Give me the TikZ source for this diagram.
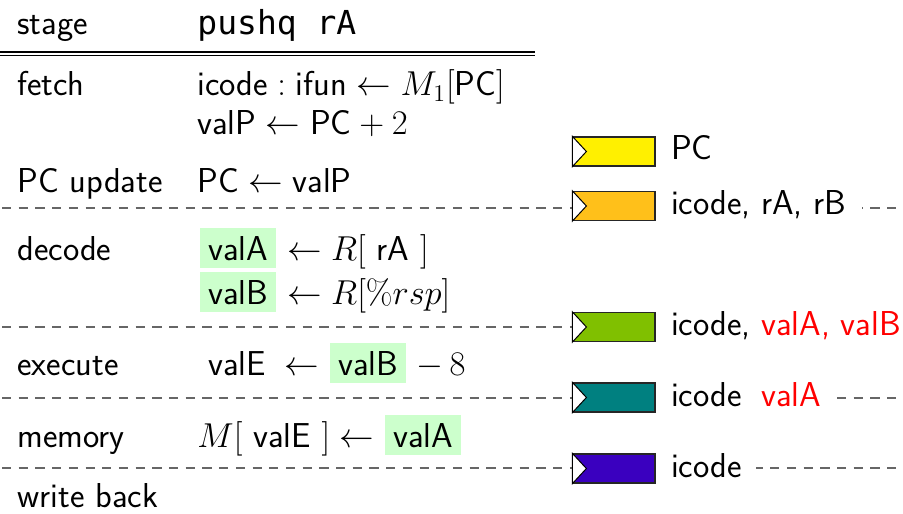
\documentclass[tikz,border=0pt]{standalone}
\usepackage{amsmath}
\usepackage{fontspec}
\newfontfamily\codefont[Scale=0.955]{DejaVu Sans Mono}
\usetikzlibrary{calc}

\definecolor{hlgreen}{HTML}{CCFFCC}
\definecolor{regyellow}{HTML}{FFF000}
\definecolor{regorange}{HTML}{FFC01A}
\definecolor{reggreen}{HTML}{80C000}
\definecolor{regteal}{HTML}{008080}
\definecolor{regpurple}{HTML}{3A00BF}

% highlighted operand, and an unfilled box of the same size for alignment
\newcommand{\hlval}[1]{{\setlength{\fboxsep}{4pt}\colorbox{hlgreen}{#1}}}
\newcommand{\plainval}[1]{\hbox{\hspace{4pt}#1\hspace{4pt}}}
\newcommand{\bodyfont}{\fontsize{17.28}{21}\selectfont\sffamily}

\tikzset{
  txt/.style={anchor=base west, inner sep=0pt, font=\bodyfont},
  sepline/.style={draw=black!60, line width=0.9pt, dash pattern=on 4.6pt off 3.75pt},
  rule/.style={draw=black, line width=0.7pt},
  reg/.style={draw=black!85, line width=0.6pt, minimum width=41pt, minimum height=14.5pt, inner sep=0pt},
  clk/.style={draw=black, line width=0.5pt, fill=white},
  reglbl/.style={anchor=west, fill=white, inner xsep=7.5pt, inner ysep=1pt,
    text height=11.5pt, text depth=3pt, font=\bodyfont},
}

\begin{document}
\begin{tikzpicture}[x=0.5pt, y=-0.5pt]
\useasboundingbox (0,0) rectangle (903,513);

% header
\node[txt] (hstage) at (17,35) {stage};
\node[txt] (hinstr) at (197,35) {\codefont pushq rA};
\coordinate (rl) at (0,52);
\coordinate (rr) at (535,52);
\draw[rule] (rl) -- (rr);
\draw[rule] ([yshift=-1.8pt]rl) -- ([yshift=-1.8pt]rr);

% stage separators
\foreach \yy/\nm in {208/sA, 327/sB, 398/sC, 468/sD} {
  \coordinate (\nm l) at (2,\yy);
  \coordinate (\nm r) at (903,\yy);
  \draw[sepline] (\nm l) -- (\nm r);
}

% fetch
\node[txt] (sfetch) at (17,96) {fetch};
\node[txt] (ffetchA) at (197,96) {\(\text{icode}:\text{ifun}\leftarrow M_1[\text{PC}]\)};
\node[txt] (ffetchB) at (197,135) {\(\text{valP}\leftarrow\text{PC}+2\)};

% PC update
\node[txt] (spcup) at (17,192) {PC update};
\node[txt] (fpcup) at (197,192) {\(\text{PC}\leftarrow\text{valP}\)};

% decode
\node[txt] (sdecode) at (17,260) {decode};
\node[txt] (fdecA) at (200,260) {\hlval{valA} \(\leftarrow R[\text{ rA }]\)};
\node[txt] (fdecB) at (200,304) {\hlval{valB} \(\leftarrow R[\%rsp]\)};

% execute
\node[txt] (sexec) at (17,375) {execute};
\node[txt] (fexec) at (200,375) {\plainval{valE} \(\leftarrow\) \hlval{valB} \(-\)\,\(8\)};

% memory
\node[txt] (smem) at (17,447) {memory};
\node[txt] (fmem) at (197,447) {\(M[\text{ valE }]\leftarrow\) \hlval{valA}};

% write back
\node[txt] (swb) at (17,507) {write back};

% pipeline registers
\foreach \nm/\yy/\col in {rPC/151.5/regyellow, rFD/206/regorange, rDE/327/reggreen,
                         rEM/397.5/regteal, rMW/468.5/regpurple} {
  \node[reg, fill=\col] (\nm) at (614,\yy) {};
  \draw[clk] (\nm.north west) -- ([xshift=7pt]\nm.west) -- (\nm.south west) -- cycle;
}

\node[reglbl] (lPC) at (rPC.east) {PC};
\node[reglbl] (lFD) at (rFD.east) {icode, rA, rB};
\node[reglbl] (lDE) at (rDE.east) {icode, \textcolor{red}{valA, valB}};
\node[reglbl] (lEM) at (rEM.east) {icode\phantom{,} \textcolor{red}{valA}};
\node[reglbl] (lMW) at (rMW.east) {icode\hspace{1pt}};
\end{tikzpicture}
\end{document}
